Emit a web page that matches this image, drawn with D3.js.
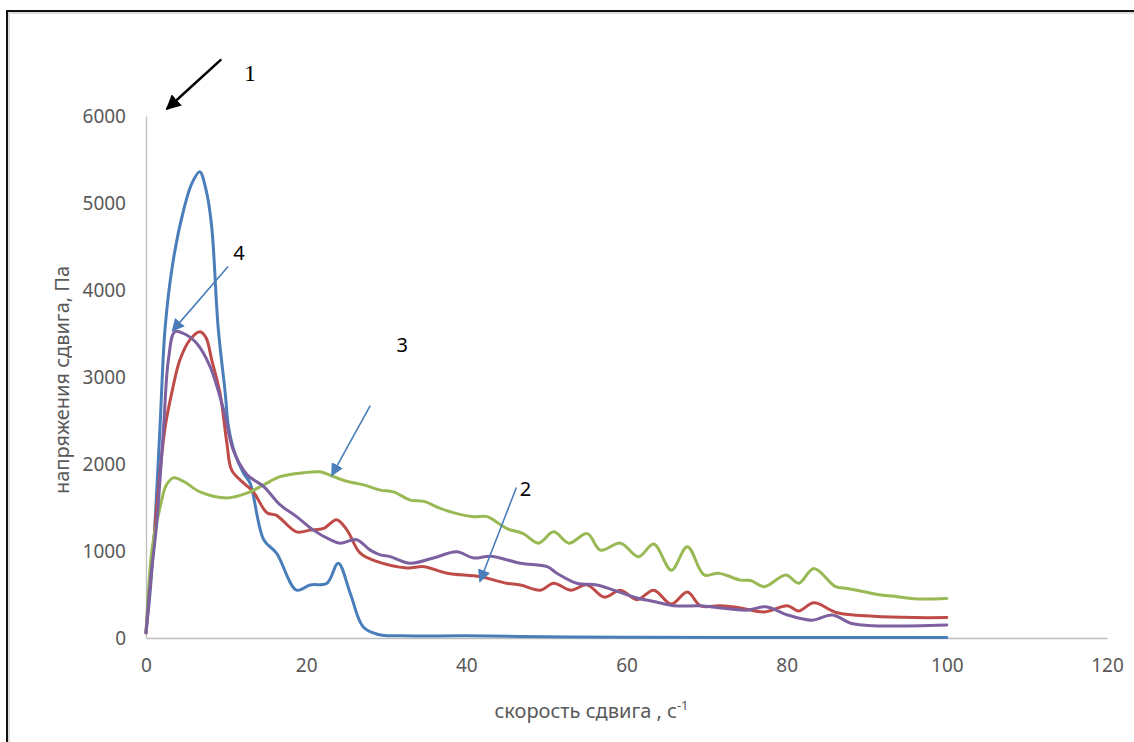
<!DOCTYPE html>
<html>
<head>
<meta charset="utf-8">
<script src="https://cdn.jsdelivr.net/npm/d3@7"></script>
<style>
  body { margin: 0; background: #fff; }
  svg { display: block; }
</style>
</head>
<body>
<svg id="chart"></svg>
<script>
// Curve values: [shear rate, stress]
const series1 = [[0,60],[0.5,515],[1.1,1280],[1.75,2430],[2.4,3580],[3.4,4340],[4.7,4920],[5.7,5220],[6.7,5360],[7.5,5150],[8.2,4730],[9,3580],[9.9,2810],[10.3,2430],[11.1,2120],[12.2,1890],[13,1780],[14.7,1130],[16.3,975],[18.8,550],[20.5,610],[22.6,630],[24,860],[25.5,515],[27.1,130],[29,40],[32,25],[40,25],[50,15],[60,10],[80,5],[100,5]];
const series2 = [[0,60],[0.6,700],[1.5,1660],[2.4,2430],[3.2,2810],[4.25,3200],[5.5,3430],[6.75,3520],[7.5,3450],[8.2,3200],[9.25,2810],[10.1,2240],[10.7,1930],[12.2,1780],[13.4,1680],[15.1,1440],[16.3,1410],[18.8,1220],[20.5,1240],[22.2,1260],[23.8,1360],[25.1,1240],[26.75,975],[28.8,880],[32.6,805],[34.7,820],[37.6,745],[41.75,705],[45,630],[46.75,610],[49.25,550],[50.9,630],[53,550],[55.1,610],[57.2,470],[59.25,550],[61.3,440],[63.4,550],[65.6,390],[67.6,530],[69.25,370],[71.75,370],[74.25,345],[77.2,300],[80.1,370],[81.5,310],[83.4,405],[86.3,290],[90.9,250],[95.9,235],[100,235]];
const series3 = [[0,60],[0.35,600],[0.8,1050],[1.75,1500],[2.5,1750],[3.4,1840],[4.7,1800],[6.75,1680],[10.1,1610],[12.6,1665],[14.7,1760],[16.75,1855],[19.7,1900],[21.75,1910],[23,1870],[25.1,1800],[27.2,1760],[29.25,1700],[30.9,1680],[33,1585],[34.7,1570],[36.75,1490],[38.8,1430],[40.9,1395],[42.6,1395],[45,1260],[47.1,1200],[49,1090],[50.9,1220],[52.8,1090],[55.1,1200],[56.75,1010],[59.25,1090],[61.5,935],[63.4,1080],[65.6,780],[67.6,1050],[69.7,725],[71.5,745],[74.25,665],[75.5,660],[77.2,590],[79.9,725],[81.5,630],[83.4,800],[86.1,590],[87.6,570],[91.75,495],[93.8,475],[95.9,450],[100,455]];
const series4 = [[0,60],[0.6,700],[1.3,1280],[2.2,2430],[2.8,3200],[3.6,3520],[4.7,3500],[6.3,3390],[8,3120],[9.7,2620],[10.9,2160],[12.6,1880],[14.7,1740],[16.75,1530],[18.8,1395],[20.9,1240],[23,1130],[24.25,1090],[26.3,1130],[28,1010],[29.25,955],[30.5,935],[33,860],[35.9,920],[38.8,990],[40.9,920],[43,940],[46.75,860],[50.1,820],[51.3,745],[53.8,630],[56.3,610],[58.4,550],[61.3,460],[63.4,420],[66,370],[69.25,370],[71.75,345],[75,320],[77.4,360],[80.1,265],[83.2,205],[85.7,265],[88,170],[90.9,140],[100,150]];

const xTicks = [0, 20, 40, 60, 80, 100, 120];
const yTicks = [0, 1000, 2000, 3000, 4000, 5000, 6000];

// Curve numbers and where their arrows point (data coordinates)
const labels = ["1", "2", "3", "4"];
const arrowFrom = [[9.4, 6650], [46.25, 1730], [28, 2670], [10.25, 4270]];
const arrowTo = [[2.6, 6080], [41.7, 650], [23.2, 1870], [3.3, 3530]];
const labelAt = [[13, 6500], [47.4, 1720], [32, 3370], [11.6, 4430]];

const svgWidth = 1134;
const svgHeight = 742;
const margin = {top: 116, right: 27, bottom: 104, left: 146};
const plotW = svgWidth - margin.left - margin.right;
const plotH = svgHeight - margin.top - margin.bottom;

const svg = d3.select("#chart")
    .attr("width", svgWidth)
    .attr("height", svgHeight);

// Frame of the pasted picture
svg.append("path")
    .attr("d", `M9,${svgHeight + 2} V13 H${svgWidth + 2}`)
    .attr("fill", "none").attr("stroke", "#dcdcdc").attr("stroke-width", 2);
svg.append("path")
    .attr("d", `M7,${svgHeight + 2} V11 H${svgWidth + 2}`)
    .attr("fill", "none").attr("stroke", "#111").attr("stroke-width", 2);

const plot = svg.append("g")
    .attr("transform", `translate(${margin.left},${margin.top})`);

const x = d3.scaleLinear().domain([0, 120]).range([0, plotW]);
const y = d3.scaleLinear().domain([0, 6000]).range([plotH, 0]);

const font = "'Noto Sans', 'Open Sans', sans-serif";

// Axes
const xAxis = plot.append("g")
    .attr("transform", `translate(0,${plotH})`)
    .call(d3.axisBottom(x).tickValues(xTicks).tickFormat(d3.format("d")).tickSize(0).tickPadding(21));
const yAxis = plot.append("g")
    .call(d3.axisLeft(y).tickValues(yTicks).tickFormat(d3.format("d")).tickSize(0).tickPadding(20));

[xAxis, yAxis].forEach(a => {
    a.select(".domain").attr("stroke", "#bfbfbf").attr("stroke-width", 1.3);
    a.selectAll("text")
        .attr("fill", "#595959")
        .style("font-family", font)
        .style("font-size", "19px");
});

// Axis titles
const xTitle = plot.append("text")
    .attr("x", plotW / 2 - 35)
    .attr("y", plotH + 80)
    .attr("text-anchor", "middle")
    .attr("fill", "#595959")
    .style("font-family", font)
    .style("font-size", "20px");
xTitle.append("tspan").text("скорость сдвига , с");
xTitle.append("tspan").attr("dy", -8).style("font-size", "13px").text("-1");

plot.append("text")
    .attr("transform", "rotate(-90)")
    .attr("x", -(380 - margin.top))
    .attr("y", -margin.left + 69)
    .attr("text-anchor", "middle")
    .attr("fill", "#595959")
    .style("font-family", font)
    .style("font-size", "20px")
    .text("напряжения сдвига, Па");

// Smoothed curves
const line = d3.line()
    .x(d => x(d[0]))
    .y(d => y(d[1]))
    .curve(d3.curveCatmullRom.alpha(0.5));

const curves = [
    {data: series1, color: "#4a7ebb"},
    {data: series2, color: "#be4b48"},
    {data: series3, color: "#98b954"},
    {data: series4, color: "#7d60a0"}
];

plot.selectAll("path.curve")
    .data(curves)
    .enter()
    .append("path")
    .attr("class", "curve")
    .attr("d", d => line(d.data))
    .attr("fill", "none")
    .attr("stroke", d => d.color)
    .attr("stroke-width", 3)
    .attr("stroke-linejoin", "round")
    .attr("stroke-linecap", "round");

// Arrow heads
const defs = svg.append("defs");
[["headBlack", "#000"], ["headBlue", "#4a7ebb"]].forEach(([id, c]) => {
    defs.append("marker")
        .attr("id", id)
        .attr("viewBox", "0 0 10 10")
        .attr("refX", 9).attr("refY", 5)
        .attr("markerWidth", id === "headBlack" ? 6 : 8)
        .attr("markerHeight", id === "headBlack" ? 6 : 8)
        .attr("markerUnits", "strokeWidth")
        .attr("orient", "auto")
        .append("path")
        .attr("d", "M0,0 L10,5 L0,10 z")
        .attr("fill", c);
});

labels.forEach((lab, i) => {
    const first = i === 0;
    plot.append("line")
        .attr("x1", x(arrowFrom[i][0])).attr("y1", y(arrowFrom[i][1]))
        .attr("x2", x(arrowTo[i][0])).attr("y2", y(arrowTo[i][1]))
        .attr("stroke", first ? "#000" : "#4a7ebb")
        .attr("stroke-width", first ? 2.5 : 1.6)
        .attr("marker-end", first ? "url(#headBlack)" : "url(#headBlue)");
    plot.append("text")
        .attr("x", x(labelAt[i][0]))
        .attr("y", y(labelAt[i][1]))
        .attr("text-anchor", "middle")
        .attr("dominant-baseline", "central")
        .attr("fill", "#000")
        .style("font-family", first ? "'Liberation Serif', serif" : font)
        .style("font-size", first ? "24px" : "20px")
        .text(lab);
});
</script>
</body>
</html>
